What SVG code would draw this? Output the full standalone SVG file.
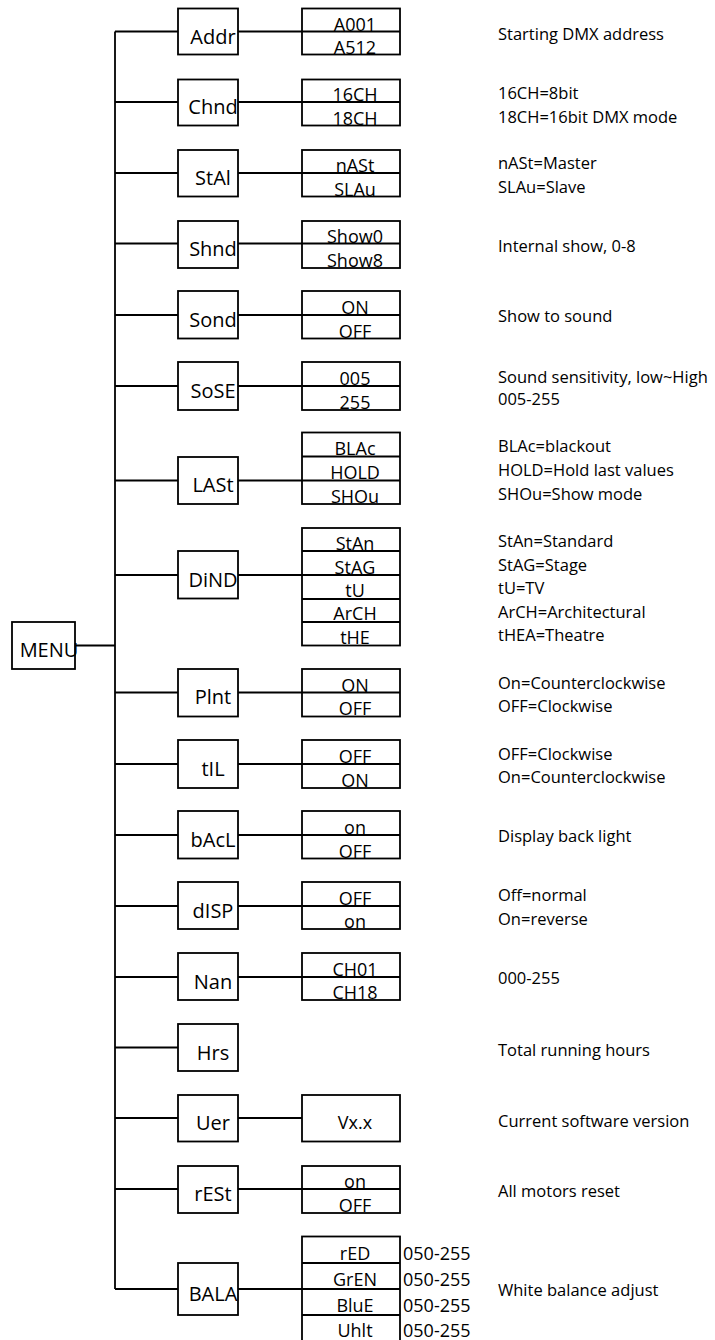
<svg xmlns="http://www.w3.org/2000/svg" width="715" height="1340" viewBox="0 0 715 1340">
<style>
.box{fill:#fff;stroke:#000;stroke-width:1.8}
.ln{stroke:#000;stroke-width:1.8;fill:none}
text{font-family:"Open Sans","Noto Sans","DejaVu Sans",sans-serif;fill:#000}
.lbl{font-size:20px;text-anchor:middle}
.val{font-size:18px;text-anchor:middle}
.rng{font-size:18px}
.desc{font-size:16.5px}
</style>
<rect width="715" height="1340" fill="#fff"/>
<g id="connectors" class="ln">
<path d="M115,31.5V1289"/>
<path d="M75,645.5H115"/>
<path d="M115,31.5H178M238,31.5H302"/>
<path d="M115,102H178M238,102H302"/>
<path d="M115,173H178M238,173H302"/>
<path d="M115,243.5H178M238,243.5H302"/>
<path d="M115,315H178M238,315H302"/>
<path d="M115,386H178M238,386H302"/>
<path d="M115,480.5H178M238,480.5H302"/>
<path d="M115,575H178M238,575H302"/>
<path d="M115,692.5H178M238,692.5H302"/>
<path d="M115,764H178M238,764H302"/>
<path d="M115,835H178M238,835H302"/>
<path d="M115,906H178M238,906H302"/>
<path d="M115,977H178M238,977H302"/>
<path d="M115,1047.5H178"/>
<path d="M115,1118H178M238,1118H302"/>
<path d="M115,1189H178M238,1189H302"/>
<path d="M115,1289H178M238,1289H302"/>
</g>
<g id="menu"><rect class="box" x="12" y="622" width="63" height="47"/><text class="lbl" x="49" y="657">MENU</text></g>

<g id="addr"><rect class="box" x="178" y="8.5" width="60" height="46"/><text class="lbl" x="213" y="43.5">Addr</text></g>
<g id="addr-opts"><rect class="box" x="302" y="8.5" width="98" height="46"/><path class="ln" d="M302,31.5H400"/><text class="val" x="355" y="30.5">A001</text><text class="val" x="355" y="53.5">A512</text></g>

<g id="chnd"><rect class="box" x="178" y="79.5" width="60" height="46"/><text class="lbl" x="213" y="114">Chnd</text></g>
<g id="chnd-opts"><rect class="box" x="302" y="79.5" width="98" height="46"/><path class="ln" d="M302,102H400"/><text class="val" x="355" y="101">16CH</text><text class="val" x="355" y="124.5">18CH</text></g>

<g id="stal"><rect class="box" x="178" y="150" width="60" height="46.5"/><text class="lbl" x="213" y="185">StAl</text></g>
<g id="stal-opts"><rect class="box" x="302" y="150" width="98" height="46.5"/><path class="ln" d="M302,173H400"/><text class="val" x="355" y="172">nASt</text><text class="val" x="355" y="195.5">SLAu</text></g>

<g id="shnd"><rect class="box" x="178" y="221" width="60" height="47"/><text class="lbl" x="213" y="255.5">Shnd</text></g>
<g id="shnd-opts"><rect class="box" x="302" y="221" width="98" height="47"/><path class="ln" d="M302,243.5H400"/><text class="val" x="355" y="242.5">Show0</text><text class="val" x="355" y="267">Show8</text></g>

<g id="sond"><rect class="box" x="178" y="291" width="60" height="47.5"/><text class="lbl" x="213" y="327">Sond</text></g>
<g id="sond-opts"><rect class="box" x="302" y="291" width="98" height="47.5"/><path class="ln" d="M302,315H400"/><text class="val" x="355" y="314">ON</text><text class="val" x="355" y="337.5">OFF</text></g>

<g id="sose"><rect class="box" x="178" y="362" width="60" height="48"/><text class="lbl" x="213" y="398">SoSE</text></g>
<g id="sose-opts"><rect class="box" x="302" y="362" width="98" height="48"/><path class="ln" d="M302,386H400"/><text class="val" x="355" y="385">005</text><text class="val" x="355" y="409">255</text></g>

<g id="last"><rect class="box" x="178" y="457" width="60" height="47"/><text class="lbl" x="213" y="492">LASt</text></g>
<g id="last-opts"><rect class="box" x="302" y="432.5" width="98" height="71.5"/><path class="ln" d="M302,456.5H400M302,480.5H400"/><text class="val" x="355" y="455">BLAc</text><text class="val" x="355" y="479">HOLD</text><text class="val" x="355" y="502.5">SHOu</text></g>

<g id="dind"><rect class="box" x="178" y="551" width="60" height="47.5"/><text class="lbl" x="213" y="587">DiND</text></g>
<g id="dind-opts"><rect class="box" x="302" y="528" width="98" height="117.5"/><path class="ln" d="M302,551H400M302,575H400M302,599H400M302,622H400"/><text class="val" x="355" y="549.5">StAn</text><text class="val" x="355" y="573.5">StAG</text><text class="val" x="355" y="597">tU</text><text class="val" x="355" y="620">ArCH</text><text class="val" x="355" y="644">tHE</text></g>

<g id="pint"><rect class="box" x="178" y="669" width="60" height="47.5"/><text class="lbl" x="213" y="704">Plnt</text></g>
<g id="pint-opts"><rect class="box" x="302" y="669" width="98" height="47.5"/><path class="ln" d="M302,692.5H400"/><text class="val" x="355" y="691.5">ON</text><text class="val" x="355" y="715">OFF</text></g>

<g id="til"><rect class="box" x="178" y="740" width="60" height="48"/><text class="lbl" x="213" y="776">tIL</text></g>
<g id="til-opts"><rect class="box" x="302" y="740" width="98" height="48"/><path class="ln" d="M302,764H400"/><text class="val" x="355" y="763">OFF</text><text class="val" x="355" y="787">ON</text></g>

<g id="bacl"><rect class="box" x="178" y="811" width="60" height="47.5"/><text class="lbl" x="213" y="847">bAcL</text></g>
<g id="bacl-opts"><rect class="box" x="302" y="811" width="98" height="47.5"/><path class="ln" d="M302,835H400"/><text class="val" x="355" y="834">on</text><text class="val" x="355" y="857.5">OFF</text></g>

<g id="disp"><rect class="box" x="178" y="882" width="60" height="47"/><text class="lbl" x="213" y="918">dISP</text></g>
<g id="disp-opts"><rect class="box" x="302" y="882" width="98" height="47"/><path class="ln" d="M302,906H400"/><text class="val" x="355" y="905">OFF</text><text class="val" x="355" y="928">on</text></g>

<g id="nan"><rect class="box" x="178" y="953" width="60" height="47"/><text class="lbl" x="213" y="989">Nan</text></g>
<g id="nan-opts"><rect class="box" x="302" y="953" width="98" height="47"/><path class="ln" d="M302,977H400"/><text class="val" x="355" y="976">CH01</text><text class="val" x="355" y="999">CH18</text></g>

<g id="hrs"><rect class="box" x="178" y="1024" width="60" height="47"/><text class="lbl" x="213" y="1059.5">Hrs</text></g>

<g id="uer"><rect class="box" x="178" y="1095" width="60" height="46.5"/><text class="lbl" x="213" y="1130">Uer</text></g>
<g id="uer-opts"><rect class="box" x="302" y="1095" width="98" height="46.5"/><text class="val" x="355" y="1128.5">Vx.x</text></g>

<g id="rest"><rect class="box" x="178" y="1166" width="60" height="47"/><text class="lbl" x="213" y="1201">rESt</text></g>
<g id="rest-opts"><rect class="box" x="302" y="1166" width="98" height="47"/><path class="ln" d="M302,1189H400"/><text class="val" x="355" y="1188">on</text><text class="val" x="355" y="1212">OFF</text></g>

<g id="bala"><rect class="box" x="178" y="1263" width="60" height="52"/><text class="lbl" x="213" y="1301">BALA</text></g>
<g id="bala-opts"><rect class="box" x="302" y="1236.5" width="98" height="110"/><path class="ln" d="M302,1263H400M302,1289H400M302,1315H400"/><text class="val" x="355" y="1259.5">rED</text><text class="val" x="355" y="1286">GrEN</text><text class="val" x="355" y="1312">BluE</text><text class="val" x="355" y="1337">Uhlt</text>
<text class="rng" x="403" y="1259.5">050-255</text><text class="rng" x="403" y="1286">050-255</text><text class="rng" x="403" y="1312">050-255</text><text class="rng" x="403" y="1337">050-255</text></g>

<g id="descriptions">
<text class="desc" x="498" y="40">Starting DMX address</text>
<text class="desc" x="498" y="99">16CH=8bit</text>
<text class="desc" x="498" y="123">18CH=16bit DMX mode</text>
<text class="desc" x="498" y="169">nASt=Master</text>
<text class="desc" x="498" y="193">SLAu=Slave</text>
<text class="desc" x="498" y="252">Internal show, 0-8</text>
<text class="desc" x="498" y="322">Show to sound</text>
<text class="desc" x="498" y="383">Sound sensitivity, low~High</text>
<text class="desc" x="498" y="405">005-255</text>
<text class="desc" x="498" y="451.5">BLAc=blackout</text>
<text class="desc" x="498" y="476">HOLD=Hold last values</text>
<text class="desc" x="498" y="500">SHOu=Show mode</text>
<text class="desc" x="498" y="547">StAn=Standard</text>
<text class="desc" x="498" y="571">StAG=Stage</text>
<text class="desc" x="498" y="594">tU=TV</text>
<text class="desc" x="498" y="618">ArCH=Architectural</text>
<text class="desc" x="498" y="641">tHEA=Theatre</text>
<text class="desc" x="498" y="689">On=Counterclockwise</text>
<text class="desc" x="498" y="712">OFF=Clockwise</text>
<text class="desc" x="498" y="759.5">OFF=Clockwise</text>
<text class="desc" x="498" y="783">On=Counterclockwise</text>
<text class="desc" x="498" y="842">Display back light</text>
<text class="desc" x="498" y="901">Off=normal</text>
<text class="desc" x="498" y="925">On=reverse</text>
<text class="desc" x="498" y="984">000-255</text>
<text class="desc" x="498" y="1055.5">Total running hours</text>
<text class="desc" x="498" y="1126.5">Current software version</text>
<text class="desc" x="498" y="1197">All motors reset</text>
<text class="desc" x="498" y="1295.5">White balance adjust</text>
</g>
</svg>
